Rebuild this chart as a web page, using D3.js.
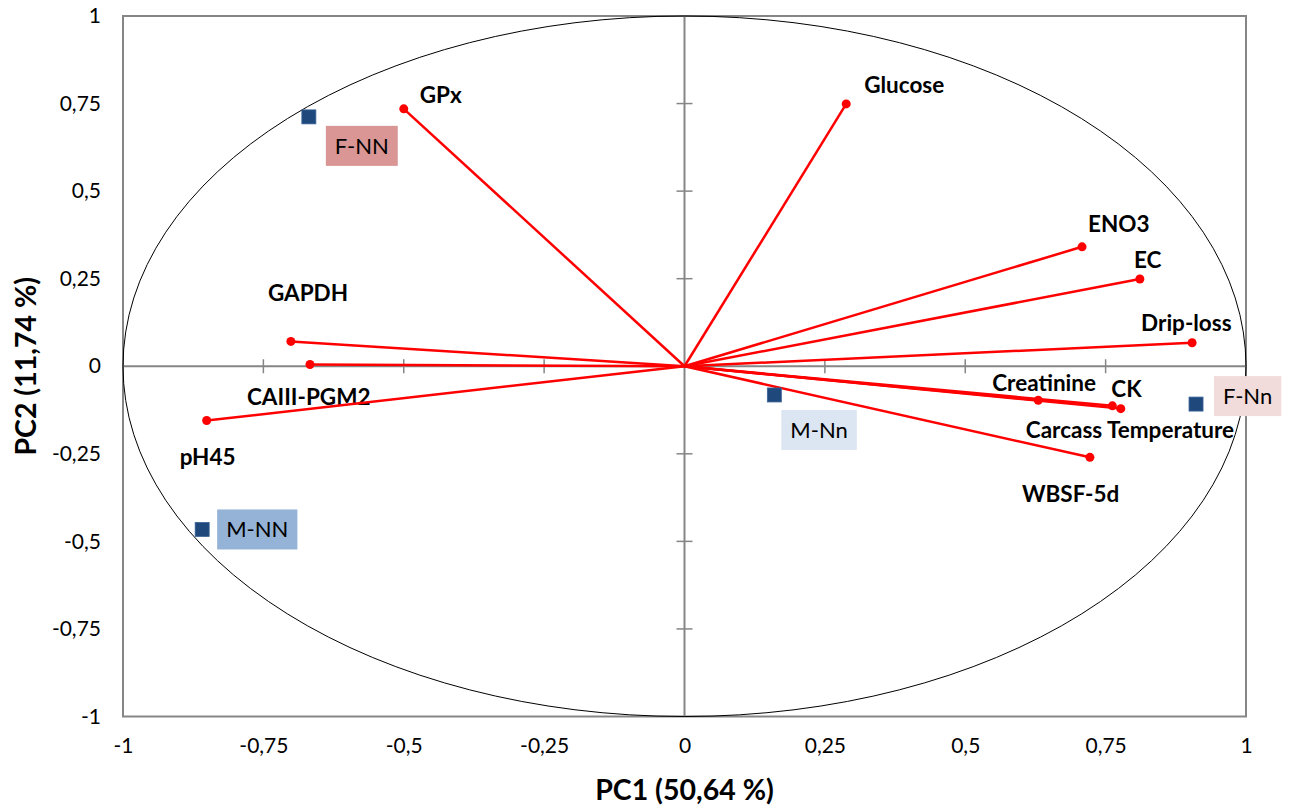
<!DOCTYPE html>
<html>
<head>
<meta charset="utf-8">
<script src="https://cdn.jsdelivr.net/npm/d3@7"></script>
<style>
  body { margin: 0; background: #fff; }
  text { font-family: Lato, "Open Sans", sans-serif; fill: #000; }
</style>
</head>
<body>
<svg></svg>
<script>
const width = 1289,
      height = 810

// variable loadings
const variables = ["GPx", "Glucose", "ENO3", "EC", "Drip-loss", "Creatinine", "CK",
  "Carcass Temperature", "WBSF-5d", "GAPDH", "CAIII-PGM2", "pH45"]
const pc1 = [-0.50, 0.288, 0.708, 0.811, 0.904, 0.630, 0.762, 0.777, 0.722, -0.701, -0.667, -0.851]
const pc2 = [0.735, 0.749, 0.341, 0.249, 0.067, -0.097, -0.113, -0.121, -0.260, 0.071, 0.005, -0.155]
// label offset from point (px): left edge, vertical centre
const labelDx = [16, 18, 6, -6, -51, -46, -1, -95, -68, -23, -63, -27]
const labelDy = [-14, -19, -23, -19, -20, -17, -17, 21, 37, -48, 32, 36]

// group scores
const groups = ["F-NN", "M-NN", "M-Nn", "F-Nn"]
const groupX = [-0.669, -0.859, 0.160, 0.911]
const groupY = [0.712, -0.466, -0.082, -0.108]
const groupFill = ["#d99694", "#95b3d7", "#dce6f2", "#f2dcdb"]
const boxDx = [17, 15, 7, 18]
const boxDy = [9, -20, 15, -28]

const ticks = [-1, -0.75, -0.5, -0.25, 0, 0.25, 0.5, 0.75, 1]

const locale = d3.formatLocale({decimal: ",", thousands: ".", grouping: [3], currency: ["", ""], minus: "-"})
const fmt = d => locale.format("")(d)

const svg = d3.select("svg")
  .attr("width", width)
  .attr("height", height)

const x = d3.scaleLinear().domain([-1, 1]).range([123, 1246])
const y = d3.scaleLinear().domain([-1, 1]).range([716.5, 16])

const gray = "#868686"

// frame
svg.append("rect")
  .attr("x", x(-1)).attr("y", y(1))
  .attr("width", x(1) - x(-1)).attr("height", y(-1) - y(1))
  .attr("fill", "none").attr("stroke", gray).attr("stroke-width", 2)

// tick labels
svg.append("g")
  .attr("transform", `translate(0,${y(-1)})`)
  .call(d3.axisBottom(x).tickValues(ticks).tickFormat(fmt).tickSize(0).tickPadding(22))
  .call(g => g.select(".domain").remove())
  .selectAll("text").style("font-size", "21px").attr("font-family", null)

svg.append("g")
  .attr("transform", `translate(${x(-1)},0)`)
  .call(d3.axisLeft(y).tickValues(ticks).tickFormat(fmt).tickSize(0).tickPadding(22))
  .call(g => g.select(".domain").remove())
  .selectAll("text").style("font-size", "21px").attr("font-family", null)

// centre axes with crossing ticks
svg.append("line")
  .attr("x1", x(-1)).attr("x2", x(1)).attr("y1", y(0)).attr("y2", y(0))
  .attr("stroke", gray).attr("stroke-width", 2)
svg.append("line")
  .attr("x1", x(0)).attr("x2", x(0)).attr("y1", y(-1)).attr("y2", y(1))
  .attr("stroke", gray).attr("stroke-width", 2)

const inner = ticks.filter(t => t !== 0 && Math.abs(t) !== 1)
svg.selectAll("line.xt").data(inner).enter().append("line")
  .attr("x1", d => x(d)).attr("x2", d => x(d))
  .attr("y1", y(0) - 7).attr("y2", y(0) + 7)
  .attr("stroke", gray).attr("stroke-width", 1.5)
svg.selectAll("line.yt").data(inner).enter().append("line")
  .attr("y1", d => y(d)).attr("y2", d => y(d))
  .attr("x1", x(0) - 8).attr("x2", x(0) + 8)
  .attr("stroke", gray).attr("stroke-width", 1.5)

// correlation circle
svg.append("ellipse")
  .attr("cx", x(0)).attr("cy", y(0))
  .attr("rx", x(1) - x(0)).attr("ry", y(-1) - y(0))
  .attr("fill", "none").attr("stroke", "#000").attr("stroke-width", 1)

// vectors
const vars = svg.selectAll("g.var").data(variables).enter().append("g")

vars.append("line")
  .attr("x1", x(0)).attr("y1", y(0))
  .attr("x2", (d, i) => x(pc1[i]))
  .attr("y2", (d, i) => y(pc2[i]))
  .attr("stroke", "#ff0000").attr("stroke-width", 2.5)

vars.append("circle")
  .attr("cx", (d, i) => x(pc1[i]))
  .attr("cy", (d, i) => y(pc2[i]))
  .attr("r", 4.5).attr("fill", "#ff0000")

vars.append("text")
  .attr("x", (d, i) => x(pc1[i]) + labelDx[i])
  .attr("y", (d, i) => y(pc2[i]) + labelDy[i])
  .attr("dy", "0.36em")
  .style("font-size", "22.5px").style("font-weight", "bold")
  .text(d => d)

// group scores
const grp = svg.selectAll("g.grp").data(groups).enter().append("g")

grp.append("rect")
  .attr("x", (d, i) => x(groupX[i]) - 7)
  .attr("y", (d, i) => y(groupY[i]) - 7)
  .attr("width", 14).attr("height", 14)
  .attr("fill", "#1f497d").attr("stroke", "#3a6397").attr("stroke-width", 0.8)

grp.each(function (d, i) {
  const g = d3.select(this)
  const bx = x(groupX[i]) + boxDx[i],
        by = y(groupY[i]) + boxDy[i]
  const box = g.append("rect").attr("fill", groupFill[i])
  const t = g.append("text")
    .attr("x", bx + 9).attr("y", by + 20).attr("dy", "0.36em")
    .style("font-size", "22px")
    .text(d)
  const w = t.node().getComputedTextLength()
  box.attr("x", bx).attr("y", by).attr("width", w + 18).attr("height", 40)
})

// axis titles
svg.append("text")
  .attr("x", x(0)).attr("y", 790).attr("dy", "0.36em")
  .attr("text-anchor", "middle")
  .style("font-size", "28.5px").style("font-weight", "bold")
  .text("PC1 (50,64 %)")

svg.append("text")
  .attr("transform", `translate(26,${y(0)}) rotate(-90)`)
  .attr("dy", "0.36em")
  .attr("text-anchor", "middle")
  .style("font-size", "28.5px").style("font-weight", "bold")
  .text("PC2 (11,74 %)")
</script>
</body>
</html>
